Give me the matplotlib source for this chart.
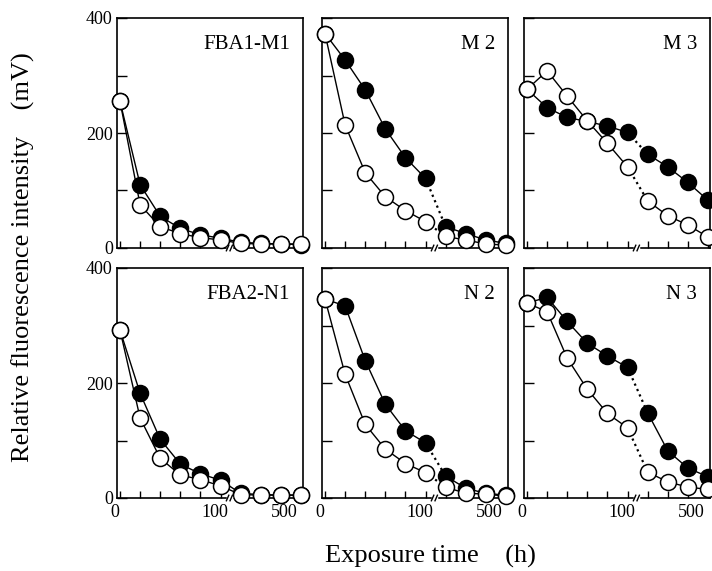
import numpy as np
import matplotlib
matplotlib.use("Agg")
import matplotlib.pyplot as plt
from matplotlib.transforms import ScaledTranslation

# Exposure times (h); the axis is linear up to 100 h and compressed beyond
times = [0, 20, 40, 60, 80, 100, 200, 300, 400, 500]

panel_names = ["FBA1-M1", "M 2", "M 3", "FBA2-N1", "N 2", "N 3"]

# Relative fluorescence intensity (mV)
open_m1 = [255, 75, 37, 25, 18, 14, 8, 7, 7, 7]
filled_m1 = [255, 110, 55, 34, 23, 17, 10, 8, 7, 6]
open_m2 = [373, 214, 131, 89, 65, 46, 20, 14, 7, 5]
filled_m2 = [373, 327, 275, 207, 157, 121, 37, 25, 14, 8]
open_m3 = [276, 308, 264, 221, 182, 141, 82, 56, 40, 19]
filled_m3 = [276, 244, 227, 220, 212, 201, 163, 141, 114, 83]
open_n1 = [292, 139, 69, 40, 32, 21, 6, 5, 5, 5]
filled_n1 = [292, 182, 102, 59, 42, 31, 8, 6, 5, 5]
open_n2 = [346, 215, 128, 85, 60, 44, 19, 8, 7, 3]
filled_n2 = [346, 334, 239, 163, 117, 96, 38, 17, 8, 5]
open_n3 = [339, 324, 243, 189, 147, 122, 45, 28, 19, 15]
filled_n3 = [339, 349, 307, 269, 247, 227, 148, 82, 52, 37]

open_series = [open_m1, open_m2, open_m3, open_n1, open_n2, open_n3]
filled_series = [filled_m1, filled_m2, filled_m3, filled_n1, filled_n2, filled_n3]
dotted_gap = [False, True, True, False, True, True]

y_ticklabels = ["0", "200", "400"]
x_ticklabels = ["0", "100", "500"]


def fwd(t):
    t = np.asarray(t, dtype=float)
    return np.where(t <= 100, t / 20.0, 5.0 + (t - 100.0) / 100.0)


def inv(p):
    p = np.asarray(p, dtype=float)
    return np.where(p <= 5, p * 20.0, 100.0 + (p - 5.0) * 100.0)


plt.rcParams["font.family"] = ["Liberation Serif", "DejaVu Serif"]

fig = plt.figure(figsize=(7.12, 5.71), dpi=100)
W, H = 712.0, 571.0
lefts = [117, 322, 524]
tops = [18, 268]
pw, ph = 186, 230

LW = 1.0
MS = 11.5
for i in range(6):
    r, c = divmod(i, 3)
    ax = fig.add_axes([lefts[c] / W, 1 - (tops[r] + ph) / H, pw / W, ph / H])
    ax.set_xscale("function", functions=(fwd, inv))
    ax.set_xlim(-3, 510)
    ax.set_ylim(0, 400)

    t = np.array(times)
    for vals, face, z in ((filled_series[i], "black", 3), (open_series[i], "white", 4)):
        v = np.array(vals)
        if dotted_gap[i]:
            ax.plot(t[:6], v[:6], "-", color="black", lw=LW, zorder=z, clip_on=False)
            ax.plot(t[5:7], v[5:7], ":", color="black", lw=1.6, zorder=z, clip_on=False)
            ax.plot(t[6:], v[6:], "-", color="black", lw=LW, zorder=z, clip_on=False)
        else:
            ax.plot(t, v, "-", color="black", lw=LW, zorder=z, clip_on=False)
        ax.plot(t, v, "o", ms=MS, mfc=face, mec="black", mew=1.1,
                zorder=z + 0.5, clip_on=False, ls="none")

    for s in ax.spines.values():
        s.set_linewidth(1.2)

    ax.set_yticks([0, 100, 200, 300, 400])
    ax.set_xticks([0, 20, 40, 60, 80, 100, 200, 300, 400, 500])
    ax.tick_params(axis="both", direction="in", width=1.0, labelsize=13)
    ax.tick_params(axis="y", length=7, pad=3)
    ax.tick_params(axis="x", length=5, pad=4)

    if c == 0:
        ax.set_yticklabels([y_ticklabels[0], "", y_ticklabels[1], "", y_ticklabels[2]])
    else:
        ax.set_yticklabels([])
    if r == 1:
        ax.set_xticklabels([x_ticklabels[0], "", "", "", "", x_ticklabels[1],
                            "", "", "", x_ticklabels[2]])
        labels = ax.get_xticklabels()
        shifts = {0: -5, 5: -6, 9: -3}
        for k, dx in shifts.items():
            lab = labels[k]
            if k == 9:
                lab.set_horizontalalignment("right")
            lab.set_transform(lab.get_transform()
                              + ScaledTranslation(dx / 100.0, 0, fig.dpi_scale_trans))
    else:
        ax.set_xticklabels([])

    # axis break marks between 100 h and 200 h
    bx = float(fwd(100)) + 0.45
    trans = ax.get_xaxis_transform()
    ax.plot([float(inv(bx - 0.07)), float(inv(bx + 0.07))], [0, 0], color="white",
            lw=2.5, transform=trans, zorder=5, clip_on=False)
    for dx in (-0.1, 0.08):
        x0 = float(inv(bx + dx - 0.06))
        x1 = float(inv(bx + dx + 0.06))
        ax.plot([x0, x1], [-0.012, 0.012], color="black", lw=1.0,
                transform=trans, zorder=6, clip_on=False)

    ax.text(0.93, 0.885, panel_names[i], transform=ax.transAxes, ha="right",
            va="center", fontsize=15)

fig.text(23 / W, 1 - 257 / H, "Relative fluorescence intensity    (mV)",
         rotation=90, ha="center", va="center", fontsize=19)
fig.text(430 / W, 1 - 556 / H, "Exposure time    (h)", ha="center", va="center",
         fontsize=19)

fig.savefig("out.png", dpi=100)
